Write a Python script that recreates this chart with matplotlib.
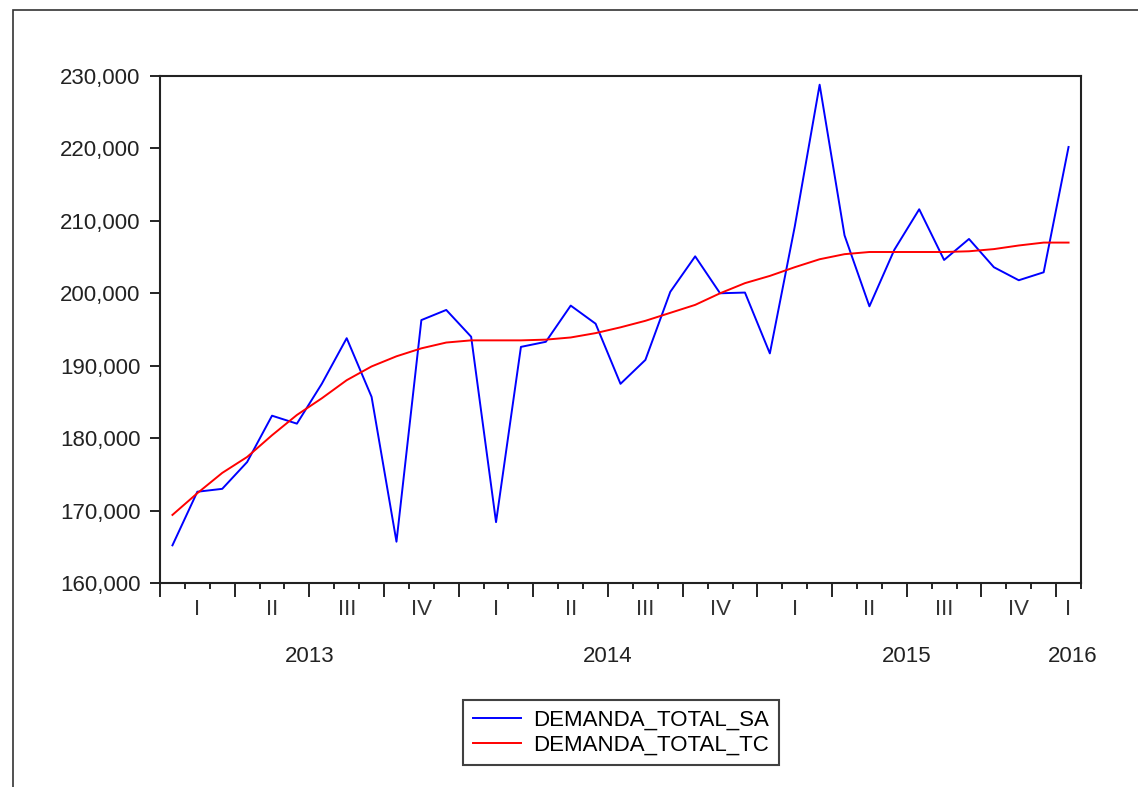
import matplotlib
matplotlib.use("Agg")
import matplotlib.pyplot as plt
from matplotlib.ticker import FixedLocator, FuncFormatter
from matplotlib.patches import Rectangle
import numpy as np

# ---- data (monthly, 2013M01 .. 2016M01) ----
demanda_total_sa = [165200, 172600, 173000, 176700, 183100, 182000, 187500, 193800,
                    185700, 165700, 196300, 197700, 194000, 168400, 192600, 193300,
                    198300, 195800, 187500, 190800, 200200, 205100, 200000, 200100,
                    191700, 209200, 228800, 208000, 198200, 206000, 211600, 204600,
                    207500, 203600, 201800, 202900, 220200]
demanda_total_tc = [169400, 172400, 175200, 177400, 180400, 183200, 185500, 188000,
                    189900, 191300, 192400, 193200, 193500, 193500, 193500, 193600,
                    193900, 194500, 195300, 196200, 197300, 198400, 200000, 201400,
                    202400, 203600, 204700, 205400, 205700, 205700, 205700, 205700,
                    205800, 206100, 206600, 207000, 207000]
years = ["2013", "2014", "2015", "2016"]
quarter_labels = ["I", "II", "III", "IV"]
y_ticks = [160000, 170000, 180000, 190000, 200000, 210000, 220000, 230000]
series_names = ["DEMANDA_TOTAL_SA", "DEMANDA_TOTAL_TC"]

plt.rcParams['font.family'] = ['Liberation Sans', 'DejaVu Sans']
FS = 16

W, H = 1138, 787
fig = plt.figure(figsize=(W / 100, H / 100), dpi=100)
fig.patch.set_facecolor('white')

# outer frame (top and left edges visible)
fig.patches.append(Rectangle((13 / W, -0.5), 2.0, 1 - 10 / H + 0.5,
                             transform=fig.transFigure, fill=False,
                             edgecolor='#333333', linewidth=1.2))

left, right, top, bottom = 160 / W, 1081 / W, 1 - 76 / H, 1 - 583 / H
ax = fig.add_axes([left, bottom, right - left, top - bottom])

n = len(demanda_total_sa)
x = np.arange(n)
ax.plot(x, demanda_total_sa, color='#0000ff', linewidth=1.4, label=series_names[0])
ax.plot(x, demanda_total_tc, color='#ff0000', linewidth=1.4, label=series_names[1])

ax.set_xlim(-0.5, n - 0.5)
ax.set_ylim(y_ticks[0], y_ticks[-1])

# y axis
ax.set_yticks(y_ticks)
ax.yaxis.set_major_formatter(FuncFormatter(lambda v, p: f"{int(v):,}"))
ax.tick_params(axis='y', direction='out', length=7, width=1.2, pad=7,
               labelsize=FS, labelcolor='#222222')

# x axis: quarter boundaries (major), month boundaries (minor)
q_bounds = np.arange(-0.5, n, 3)
m_bounds = [b for b in np.arange(-0.5, n - 0.4, 1) if b not in set(q_bounds)]
ax.xaxis.set_major_locator(FixedLocator(q_bounds))
ax.xaxis.set_minor_locator(FixedLocator(m_bounds))
ax.xaxis.set_major_formatter(FuncFormatter(lambda v, p: ""))
ax.tick_params(axis='x', which='major', direction='out', length=10, width=1.2)
ax.tick_params(axis='x', which='minor', direction='out', length=4, width=1.2)

for s in ax.spines.values():
    s.set_linewidth(1.5)
    s.set_color('#222222')

trans = ax.get_xaxis_transform()
# quarter labels
for qi in range((n + 2) // 3):
    start = qi * 3
    end = min(start + 3, n)
    cx = (start + end - 1) / 2
    ax.text(cx, -0.053, quarter_labels[qi % 4], transform=trans, ha='center',
            va='center', fontsize=FS, color='#333333')
# year labels
for yi, yr in enumerate(years):
    start = yi * 12
    end = min(start + 12, n)
    cx = (start + end - 1) / 2
    if end - start < 12:
        cx += 0.15
    ax.text(cx, -0.144, yr, transform=trans, ha='center', va='center',
            fontsize=FS, color='#222222')

leg = fig.legend(loc='upper center', bbox_to_anchor=(621 / W, 1 - 700 / H),
                 fontsize=FS, frameon=True, fancybox=False, handlelength=2.2,
                 handletextpad=0.55, borderpad=0.45, labelspacing=0.15,
                 borderaxespad=0)
leg.get_frame().set_edgecolor('#111111')
leg.get_frame().set_linewidth(1.5)

fig.savefig('out.png', dpi=100, facecolor='white')
